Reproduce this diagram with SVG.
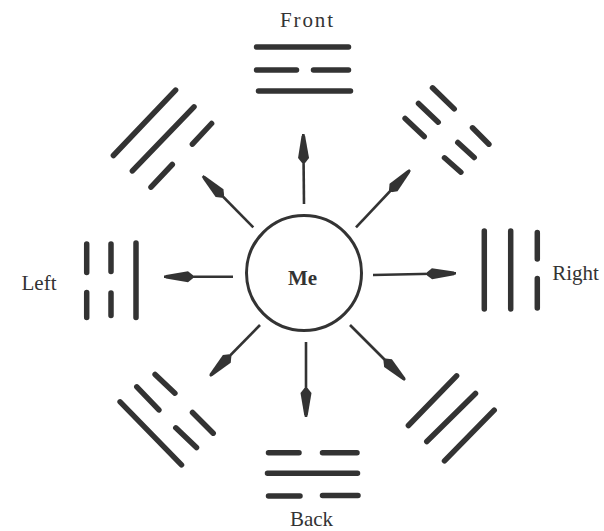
<svg xmlns="http://www.w3.org/2000/svg" width="604" height="531" viewBox="0 0 604 531">
<style>
.bar{stroke:#333;stroke-width:5.5;stroke-linecap:round;fill:none}
.arr{stroke:#333;stroke-width:2.6;fill:none;marker-end:url(#head)}
.lbl{font-family:"Liberation Serif","Times New Roman",serif;font-size:21px;fill:#333;text-anchor:middle}
</style>
<defs>
<marker id="head" markerUnits="userSpaceOnUse" markerWidth="32" markerHeight="14" viewBox="0 -7 32 14" refX="29" refY="0" orient="auto">
<path d="M0,-1.5 L5,-5.5 L27,-1.8 Q29.5,0 27,1.8 L5,5.5 L0,1.5 Z" fill="#333"/>
</marker>
</defs>
<rect width="604" height="531" fill="#fff"/>
<g id="me">
<circle cx="304" cy="273" r="57.5" fill="none" stroke="#333" stroke-width="3"/>
<text class="lbl" x="302.5" y="284.5" font-weight="bold" font-size="22">Me</text>
</g>
<g id="connectors">
<line class="arr" x1="304" y1="204" x2="303.3" y2="134"/>
<line class="arr" x1="306" y1="342" x2="306" y2="417"/>
<line class="arr" x1="233" y1="276.7" x2="164" y2="276.7"/>
<line class="arr" x1="373" y1="275" x2="456" y2="273.3"/>
<line class="arr" x1="253.3" y1="227.3" x2="202.7" y2="176"/>
<line class="arr" x1="356" y1="227.3" x2="410" y2="170"/>
<line class="arr" x1="260" y1="325" x2="210" y2="376"/>
<line class="arr" x1="350" y1="325" x2="405" y2="380"/>
</g>
<g id="front">
<text class="lbl" x="306.5" y="27" textLength="53" lengthAdjust="spacing">Front</text>
<path class="bar" d="M256.5,47 L348.5,47 M256.5,70 L296.5,70 M313.5,70 L348.5,70 M258.5,91 L350.5,91"/>
</g>
<g id="back">
<path class="bar" d="M268.5,452.7 L299,452.7 M322.5,452.7 L357,452.7 M267.5,473.3 L357.5,473.3 M268.5,496 L300,496 M322.5,495.5 L358,495.5"/>
<text class="lbl" x="311.5" y="526">Back</text>
</g>
<g id="left">
<text class="lbl" x="39" y="290" font-size="22">Left</text>
<path class="bar" d="M86.7,244 L86.7,272.5 M86.7,292.5 L86.7,317.5 M111,244 L111,271.5 M111,293 L111,315.5 M136,243 L136,317.5"/>
</g>
<g id="right">
<path class="bar" d="M484.3,231 L484.3,309 M510.7,231 L510.7,309 M537.3,232.5 L537.3,259 M537.3,278.5 L537.3,308"/>
<text class="lbl" x="575.5" y="280" font-size="22">Right</text>
</g>
<g id="front-left">
<path class="bar" d="M113.4,155.5 L175.6,90.1 M132.4,170.9 L194,106.8 M192.4,144.2 L211.6,123.5 M151,187.2 L172.3,164.5"/>
</g>
<g id="front-right">
<path class="bar" d="M432.5,87.8 L454.2,108.9 M472.5,127.8 L488.9,144.2 M418.5,103.5 L438.2,122.2 M457.8,142.5 L474.2,157.5 M405.1,118.5 L424.2,136.5 M444.5,157.8 L460.9,172.2"/>
</g>
<g id="back-left">
<path class="bar" d="M120.1,401.8 L181.5,464.9 M136.8,386.8 L158.9,409.9 M175.8,427.8 L196.5,447.5 M155.1,374.5 L174.9,393.2 M192.5,412.5 L213.2,433.2"/>
</g>
<g id="back-right">
<path class="bar" d="M408.4,425.5 L456.6,375.8 M426.8,441.5 L475.5,393.5 M444.5,460.9 L494.2,410.1"/>
</g>
</svg>
